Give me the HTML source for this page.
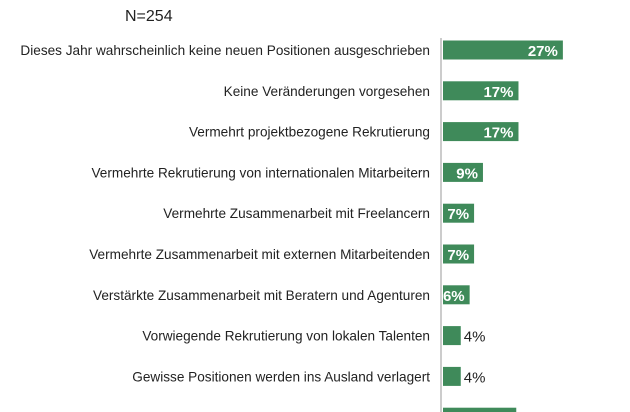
<!DOCTYPE html>
<html><head><meta charset="utf-8"><style>
body{margin:0;width:630px;height:412px;overflow:hidden;background:#fff;font-family:"Liberation Sans",sans-serif;}
svg{display:block}
</style></head><body>
<svg id="chart" width="630" height="412">
<text x="125" y="21" font-size="16" fill="#222">N=254</text>
<line x1="441" y1="38" x2="441" y2="412" stroke="#999" stroke-width="1"/>
<g id="bars"></g>
</svg>
<script>
const categories=["Dieses Jahr wahrscheinlich keine neuen Positionen ausgeschrieben","Keine Veränderungen vorgesehen","Vermehrt projektbezogene Rekrutierung","Vermehrte Rekrutierung von internationalen Mitarbeitern","Vermehrte Zusammenarbeit mit Freelancern","Vermehrte Zusammenarbeit mit externen Mitarbeitenden","Verstärkte Zusammenarbeit mit Beratern und Agenturen","Vorwiegende Rekrutierung von lokalen Talenten","Gewisse Positionen werden ins Ausland verlagert","Andere"];
const values=[27,17,17,9,7,7,6,4,4,16.5];
const valueLabels=["27%","17%","17%","9%","7%","7%","6%","4%","4%","17%"];
const ns="http://www.w3.org/2000/svg";
const g=document.getElementById('bars');
const x0=443, pxPer=4.44, yStart=50, step=40.8, bh=19;
const xs=v=>x0+v*pxPer;
const ys=i=>yStart+i*step;
categories.forEach((c,i)=>{
  const y=ys(i);
  const t=document.createElementNS(ns,'text');
  
  
  t.setAttribute('x',430);t.setAttribute('y',y+5);t.setAttribute('text-anchor','end');
  t.setAttribute('font-size','13.6');t.setAttribute('fill','#222');t.textContent=c;g.appendChild(t);
  const r=document.createElementNS(ns,'rect');
  
  
  r.setAttribute('x',x0);r.setAttribute('y',y-bh/2);r.setAttribute('width',xs(values[i])-x0);r.setAttribute('height',bh);
  r.setAttribute('fill','#3f8a5a');g.appendChild(r);
  const v=document.createElementNS(ns,'text');
  
  
  v.setAttribute('font-size','15');v.setAttribute('y',y+6);
  if(values[i]>=6){v.setAttribute('x',xs(values[i])-5);v.setAttribute('text-anchor','end');v.setAttribute('fill','#fff');v.setAttribute('font-weight','bold');}
  else{v.setAttribute('x',xs(values[i])+3);v.setAttribute('fill','#222');}
  v.textContent=valueLabels[i];g.appendChild(v);
});
</script>
</body></html>
